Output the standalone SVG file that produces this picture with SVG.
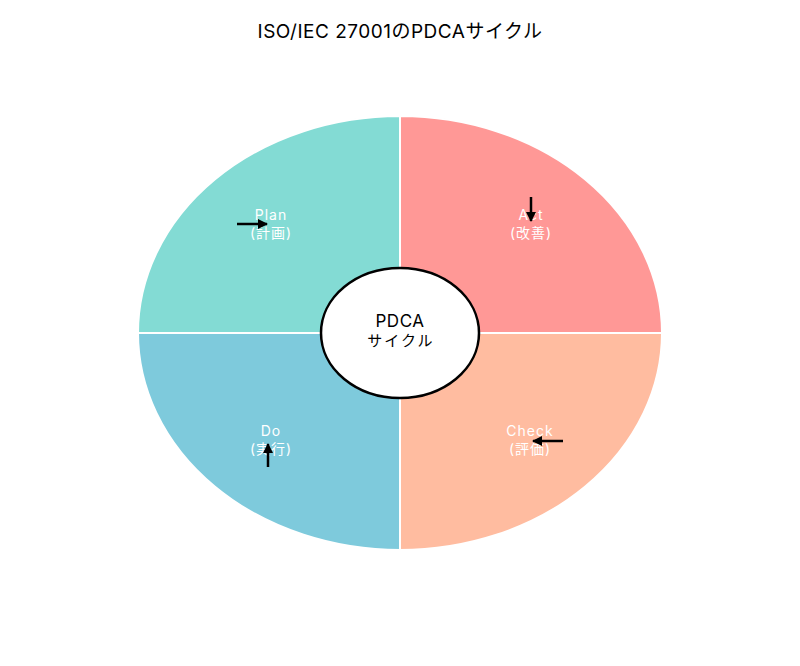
<svg xmlns="http://www.w3.org/2000/svg" width="800" height="666" viewBox="0 0 800 666">
<defs>
<marker id="ah" viewBox="0 0 10 10" refX="9" refY="5" markerWidth="4" markerHeight="4" orient="auto"><path d="M0,0 L10,5 L0,10 z" fill="#000"/></marker>
<style>
.q{stroke:#fff;stroke-width:2}
.lbl{font-family:Inter,"Noto Sans CJK JP",sans-serif;font-size:14px;letter-spacing:1px;fill:#fff;text-anchor:middle}
.ctr{font-family:Inter,"Noto Sans CJK JP",sans-serif;font-size:15px;letter-spacing:2px;fill:#000;text-anchor:middle}
.arr{stroke:#000;stroke-width:2.5;fill:none;marker-end:url(#ah)}
</style>
</defs>
<rect width="800" height="666" fill="#fff"/>
<text x="400" y="38" font-family="Inter,'Noto Sans CJK JP',sans-serif" font-size="19" letter-spacing="0.5" text-anchor="middle" fill="#000">ISO/IEC 27001のPDCAサイクル</text>
<g id="plan"><path class="q" d="M400,333 L138,333 A262,217 0 0 1 400,116 Z" fill="#83DBD4"/><text class="lbl" x="271" y="220">Plan</text><text class="lbl" x="271" y="238">(計画)</text></g>
<g id="act"><path class="q" d="M400,333 L400,116 A262,217 0 0 1 662,333 Z" fill="#FF9896"/><text class="lbl" x="531" y="220">Act</text><text class="lbl" x="531" y="238">(改善)</text></g>
<g id="check"><path class="q" d="M400,333 L662,333 A262,217 0 0 1 400,550 Z" fill="#FFBCA0"/><text class="lbl" x="530" y="436">Check</text><text class="lbl" x="530" y="454">(評価)</text></g>
<g id="do"><path class="q" d="M400,333 L400,550 A262,217 0 0 1 138,333 Z" fill="#7ECADC"/><text class="lbl" x="271" y="436">Do</text><text class="lbl" x="271" y="454">(実行)</text></g>
<g id="center"><ellipse cx="400" cy="333" rx="79" ry="65" fill="#fff" stroke="#000" stroke-width="2.5"/><text class="ctr" x="400" y="327" style="font-size:17px;letter-spacing:0.5px">PDCA</text><text class="ctr" x="401" y="346">サイクル</text></g>
<g id="connectors">
<line class="arr" x1="237" y1="224" x2="267" y2="224"/>
<line class="arr" x1="531" y1="197" x2="531" y2="221"/>
<line class="arr" x1="563" y1="441" x2="533" y2="441"/>
<line class="arr" x1="268" y1="467" x2="268" y2="444"/>
</g>
</svg>
